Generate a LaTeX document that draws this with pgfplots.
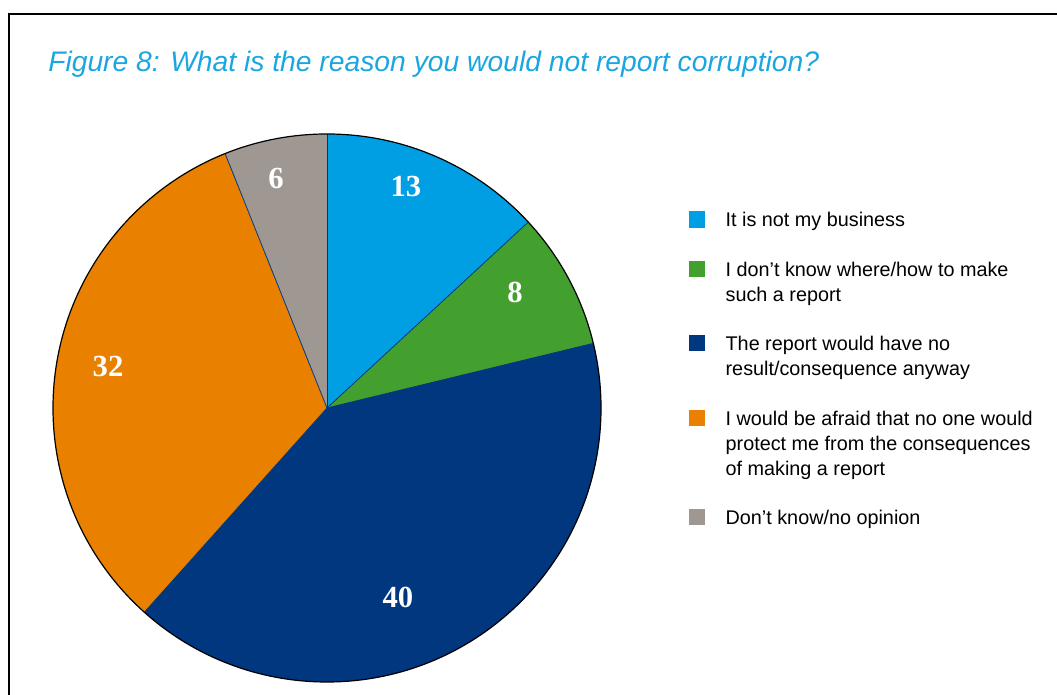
\documentclass[border=0pt]{standalone}
\usepackage{fontspec}
\setmainfont{Liberation Sans}
\newfontfamily\numfont{Liberation Serif}
\usepackage{pgfplots}
\usepackage{pgfplotstable}
\pgfplotsset{compat=1.18}

\definecolor{pie0}{HTML}{009FE3}
\definecolor{pie1}{HTML}{43A02E}
\definecolor{pie2}{HTML}{00377F}
\definecolor{pie3}{HTML}{EA8000}
\definecolor{pie4}{HTML}{9F9892}
\definecolor{titleblue}{HTML}{1AA6E0}

% share of answers, and where the number label sits (axis units)
\pgfplotstableread{
share lx ly
13 0.288 0.810
8 0.686 0.423
40 0.259 -0.693
32 -0.799 0.153
6 -0.186 0.839
}\piedata

\begin{document}
\begin{tikzpicture}
\useasboundingbox (0pt,0pt) rectangle (792.75pt,521.25pt);
\draw[line width=1.6pt] (6.75pt,-10pt) -- (6.75pt,510.75pt) -- (800pt,510.75pt);
\node[anchor=base west, inner sep=0pt, text=titleblue,
      font=\fontsize{21.2}{25}\selectfont\itshape] at (36pt,467.25pt)
  {Figure 8: What is the reason you would not report corruption?};

% start and end angle of each slice, clockwise from the top
\def\total{0}
\pgfplotsforeachungrouped \i in {0,...,4}{%
  \pgfplotstablegetelem{\i}{share}\of\piedata
  \pgfmathsetmacro\total{\total+\pgfplotsretval}}
\def\cur{90}
\pgfplotsforeachungrouped \i in {0,...,4}{%
  \pgfplotstablegetelem{\i}{share}\of\piedata
  \expandafter\xdef\csname val\i\endcsname{\pgfplotsretval}%
  \pgfmathsetmacro\sweep{\pgfplotsretval/\total*360}%
  \expandafter\xdef\csname sa\i\endcsname{\cur}%
  \pgfmathsetmacro\cur{\cur-\sweep}%
  \expandafter\xdef\csname ea\i\endcsname{\cur}%
  \pgfplotstablegetelem{\i}{lx}\of\piedata
  \expandafter\xdef\csname lx\i\endcsname{\pgfplotsretval}%
  \pgfplotstablegetelem{\i}{ly}\of\piedata
  \expandafter\xdef\csname ly\i\endcsname{\pgfplotsretval}%
}

\begin{axis}[
    at={(245.25pt,215.25pt)}, anchor=center,
    scale only axis, width=411pt, height=411pt,
    xmin=-1, xmax=1, ymin=-1, ymax=1,
    hide axis, clip=false,
    legend cell align=left,
    legend image code/.code={\fill[#1] (0pt,-10.9pt) rectangle (11.25pt,0.4pt);},
    legend style={at={(1.153,0.864)}, anchor=north west, draw=none, fill=none,
        font=\fontsize{14.85}{18.75}\selectfont, row sep=24pt,
        cells={anchor=north west},
        nodes={align=left, inner sep=0pt, text=black},
        /tikz/every odd column/.style={column sep=15.75pt}},
]
\pgfplotsinvokeforeach{0,...,4}{
  \fill[pie#1] (axis cs:0,0)
    -- (axis cs:{cos(\csname sa#1\endcsname)},{sin(\csname sa#1\endcsname)})
    arc[start angle=\csname sa#1\endcsname, end angle=\csname ea#1\endcsname,
        radius=205.5pt] -- cycle;
}
\pgfplotsinvokeforeach{0,...,4}{
  \draw[pie2, line width=0.6pt] (axis cs:0,0)
    -- (axis cs:{cos(\csname sa#1\endcsname)},{sin(\csname sa#1\endcsname)});
}
\draw[black, line width=0.9pt] (axis cs:0,0) circle[radius=205.5pt];
\pgfplotsinvokeforeach{0,...,4}{
  \node[text=white, font=\numfont\bfseries\fontsize{23}{23}\selectfont]
    at (axis cs:\csname lx#1\endcsname,\csname ly#1\endcsname)
    {\csname val#1\endcsname};
}
\addlegendimage{pie0}
\addlegendentry{It is not my business}
\addlegendimage{pie1}
\addlegendentry{I don’t know where/how to make\\such a report}
\addlegendimage{pie2}
\addlegendentry{The report would have no\\result/consequence anyway}
\addlegendimage{pie3}
\addlegendentry{I would be afraid that no one would\\protect me from the consequences\\of making a report}
\addlegendimage{pie4}
\addlegendentry{Don’t know/no opinion}
\end{axis}
\end{tikzpicture}
\end{document}
